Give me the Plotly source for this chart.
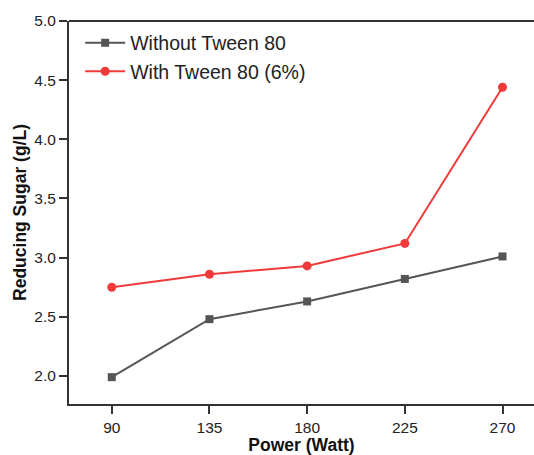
import plotly.graph_objects as go

power = [90, 135, 180, 225, 270]
without_tween = [1.99, 2.48, 2.63, 2.82, 3.01]
with_tween = [2.75, 2.86, 2.93, 3.12, 4.44]
x_ticks = [90, 135, 180, 225, 270]
y_ticks = [2.0, 2.5, 3.0, 3.5, 4.0, 4.5, 5.0]

fig = go.Figure()
fig.add_trace(go.Scatter(x=power, y=without_tween, mode="lines+markers",
                         name="Without Tween 80",
                         line=dict(color="#555555", width=2),
                         marker=dict(symbol="square", size=8, color="#555555")))
fig.add_trace(go.Scatter(x=power, y=with_tween, mode="lines+markers",
                         name="With Tween 80 (6%)",
                         line=dict(color="#f03a3a", width=2),
                         marker=dict(symbol="circle", size=9, color="#f03a3a")))

fig.update_layout(
    width=534, height=455,
    margin=dict(l=69, r=0, t=21, b=51),
    paper_bgcolor="white", plot_bgcolor="white",
    font=dict(family="Arial, Liberation Sans, sans-serif", color="#222222"),
    showlegend=True,
    legend=dict(x=0.024, y=0.993, xanchor="left", yanchor="top",
                font=dict(size=19.5, color="#222222"), bgcolor="rgba(0,0,0,0)",
                itemwidth=40, tracegroupgap=0),
)
fig.update_xaxes(range=[70.3, 284.5], tickvals=x_ticks,
                 ticks="outside", ticklen=8, tickwidth=1.5, tickcolor="#333333",
                 showline=True, linecolor="#333333", linewidth=2, mirror=False,
                 showgrid=False, zeroline=False,
                 tickfont=dict(size=15.5, color="#222222"),
                 title=dict(text="<b>Power (Watt)</b>", font=dict(size=17.5, color="#111111"), standoff=0))
fig.update_yaxes(range=[1.763, 5.0], tickvals=y_ticks, tickformat=".1f",
                 ticks="outside", ticklen=8, tickwidth=1.5, tickcolor="#333333",
                 showline=True, linecolor="#333333", linewidth=2,
                 showgrid=False, zeroline=False,
                 tickfont=dict(size=15.5, color="#222222"),
                 title=dict(text="<b>Reducing Sugar (g/L)</b>", font=dict(size=17.5, color="#111111"), standoff=3))
# top border line
fig.add_shape(type="line", xref="paper", yref="paper", x0=0, x1=1, y0=1, y1=1,
              line=dict(color="#333333", width=2))

fig.write_html("out.html")
